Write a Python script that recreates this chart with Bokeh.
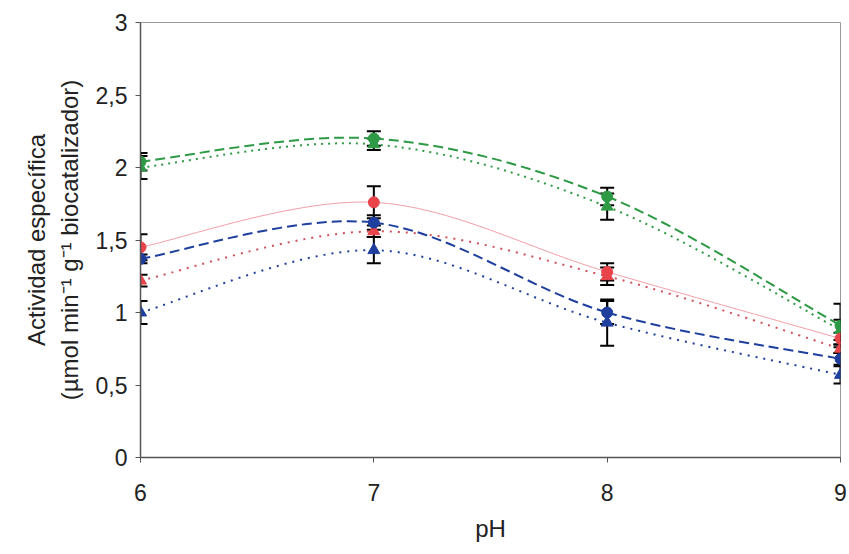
import numpy as np
from bokeh.plotting import figure
from bokeh.models import ColumnDataSource, Whisker, TeeHead, FixedTicker, Range1d
from bokeh.embed import file_html
from bokeh.resources import INLINE

ph = [6, 7, 8, 9]
green_circ = [2.04, 2.20, 1.80, 0.91]
green_circ_err = [0.06, 0.05, 0.06, 0.15]
green_tri = [2.00, 2.16, 1.73, 0.88]
green_tri_err = [0.08, 0.04, 0.09, 0.07]
red_circ = [1.45, 1.76, 1.28, 0.82]
red_circ_err = [0.09, 0.11, 0.06, 0.04]
red_tri = [1.22, 1.56, 1.25, 0.75]
red_tri_err = [0.04, 0.04, 0.06, 0.03]
blue_circ = [1.37, 1.62, 1.00, 0.68]
blue_circ_err = [0.03, 0.05, 0.08, 0.04]
blue_tri = [1.00, 1.43, 0.93, 0.57]
blue_tri_err = [0.08, 0.09, 0.16, 0.06]

y_ticks = [0, 0.5, 1, 1.5, 2, 2.5, 3]
y_tick_labels = ["0", "0,5", "1", "1,5", "2", "2,5", "3"]
x_ticks = [6, 7, 8, 9]

GREEN = "#2e9a45"
RED = "#e8444a"
PINK = "#f0a0a8"
BLUE = "#1f3f9e"

p = figure(width=849, height=554, output_backend="svg", toolbar_location=None,
           x_range=Range1d(6, 9), y_range=Range1d(0, 3),
           min_border_left=140, min_border_right=9, min_border_top=22, min_border_bottom=97)
p.xgrid.visible = False
p.ygrid.visible = False
p.outline_line_color = "#9a9a9a"
p.outline_line_width = 1
p.background_fill_color = "white"
p.border_fill_color = "white"


def smooth(xs, ys):
    xs = np.asarray(xs, float)
    ys = np.asarray(ys, float)
    n = len(xs)
    x0, y0, x1, y1, cx0, cy0, cx1, cy1 = [], [], [], [], [], [], [], []
    for i in range(n - 1):
        im = max(i - 1, 0)
        ip2 = min(i + 2, n - 1)
        x0.append(xs[i]); y0.append(ys[i])
        x1.append(xs[i + 1]); y1.append(ys[i + 1])
        cx0.append(xs[i] + (xs[i + 1] - xs[im]) / 6)
        cy0.append(ys[i] + (ys[i + 1] - ys[im]) / 6)
        cx1.append(xs[i + 1] - (xs[ip2] - xs[i]) / 6)
        cy1.append(ys[i + 1] - (ys[ip2] - ys[i]) / 6)
    return dict(x0=x0, y0=y0, x1=x1, y1=y1, cx0=cx0, cy0=cy0, cx1=cx1, cy1=cy1)


series = [
    (green_circ, green_circ_err, GREEN, GREEN, "circle", 2.0, "10 5"),
    (green_tri, green_tri_err, GREEN, GREEN, "triangle", 2.0, "2 5"),
    (red_circ, red_circ_err, RED, PINK, "circle", 1.0, None),
    (red_tri, red_tri_err, RED, "#d0505a", "triangle", 2.0, "2 6"),
    (blue_circ, blue_circ_err, BLUE, BLUE, "circle", 2.0, "10 5"),
    (blue_tri, blue_tri_err, BLUE, BLUE, "triangle", 2.0, "2 6"),
]

for ys, err, mcol, lcol, marker, lw, dpat in series:
    seg = ColumnDataSource(smooth(ph, ys))
    kw = dict(line_color=lcol, line_width=lw)
    if dpat:
        kw["line_dash"] = dpat
    p.bezier(x0="x0", y0="y0", x1="x1", y1="y1", cx0="cx0", cy0="cy0",
             cx1="cx1", cy1="cy1", source=seg, **kw)

for ys, err, mcol, lcol, marker, lw, dpat in series:
    src = ColumnDataSource(dict(x=ph, y=ys,
                                lo=[a - b for a, b in zip(ys, err)],
                                hi=[a + b for a, b in zip(ys, err)]))
    w = Whisker(base="x", lower="lo", upper="hi", source=src,
                line_color="black", line_width=2,
                upper_head=TeeHead(size=14, line_color="black", line_width=2),
                lower_head=TeeHead(size=14, line_color="black", line_width=2))
    w.level = "underlay"
    p.add_layout(w)

for ys, err, mcol, lcol, marker, lw, dpat in series:
    src = ColumnDataSource(dict(x=ph, y=ys))
    p.scatter("x", "y", source=src, marker=marker, size=12 if marker == "triangle" else 11,
              fill_color=mcol, line_color=mcol)

p.yaxis.ticker = FixedTicker(ticks=y_ticks)
p.yaxis.major_label_overrides = {t: l for t, l in zip(y_ticks, y_tick_labels)}
p.xaxis.ticker = FixedTicker(ticks=x_ticks)
p.xaxis.minor_tick_line_color = None
p.yaxis.minor_tick_line_color = None
for ax in (p.xaxis, p.yaxis):
    ax.axis_line_color = "#555555"
    ax.axis_line_width = 1.5
    ax.major_tick_line_color = "#555555"
    ax.major_tick_in = 0
    ax.major_tick_out = 5
    ax.major_label_text_font = "Liberation Sans"
    ax.major_label_text_font_size = "23px"
    ax.major_label_text_color = "#222222"
    ax.axis_label_text_font = "Liberation Sans"
    ax.axis_label_text_font_style = "normal"
    ax.axis_label_text_color = "#222222"
    ax.axis_label_text_font_size = "24px"

p.xaxis.major_label_standoff = 21
p.yaxis.major_label_standoff = 8
p.xaxis.axis_label = "pH"
p.xaxis.axis_label_standoff = 11
p.yaxis.axis_label = "Actividad específica\n(µmol min⁻¹ g⁻¹ biocatalizador)"
p.yaxis.axis_label_standoff = 10

open("out.html", "w").write(file_html(p, INLINE))
